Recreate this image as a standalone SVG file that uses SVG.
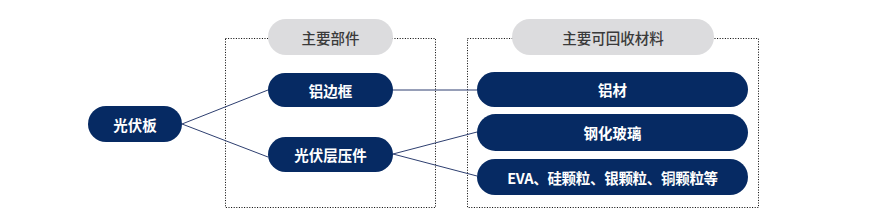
<svg xmlns="http://www.w3.org/2000/svg" width="894" height="218" viewBox="0 0 894 218">
<style>
.box{fill:none;stroke:#000;stroke-width:1;stroke-dasharray:1 1.6}
.pill{fill:#dcdcde}
.pt{font-family:"Noto Sans CJK SC","Noto Sans",sans-serif;font-size:14.5px;font-weight:500;fill:#3a3a3a;text-anchor:middle;dominant-baseline:central}
.node{fill:#062a63}
.nt{font-family:"Noto Sans CJK SC","Noto Sans",sans-serif;font-size:14.5px;font-weight:700;fill:#fff;text-anchor:middle;dominant-baseline:central}
.conn{stroke:#2e3f70;stroke-width:1;fill:none}
</style>
<rect width="894" height="218" fill="#fff"/>
<g id="group-parts">
<rect class="box" x="225.5" y="38.5" width="210" height="169"/>
<rect class="pill" x="268" y="19" width="125" height="36" rx="18"/>
<text class="pt" x="330.5" y="37">主要部件</text>
</g>
<g id="group-materials">
<rect class="box" x="467.5" y="38.5" width="291" height="169"/>
<rect class="pill" x="512" y="19" width="202" height="36" rx="18"/>
<text class="pt" x="613" y="37">主要可回收材料</text>
</g>
<g id="connectors">
<line class="conn" x1="182" y1="124" x2="268" y2="90"/>
<line class="conn" x1="182" y1="124" x2="268" y2="157"/>
<line class="conn" x1="393" y1="90" x2="477" y2="90"/>
<line class="conn" x1="393" y1="154" x2="477" y2="132"/>
<line class="conn" x1="393" y1="154" x2="477" y2="176"/>
</g>
<g id="node-panel">
<rect class="node" x="88" y="106" width="94" height="36" rx="18"/>
<text class="nt" x="135" y="124">光伏板</text>
</g>
<g id="node-frame">
<rect class="node" x="268" y="73" width="125" height="34" rx="17"/>
<text class="nt" x="330.5" y="90">铝边框</text>
</g>
<g id="node-laminate">
<rect class="node" x="268" y="137" width="125" height="35" rx="17.5"/>
<text class="nt" x="330.5" y="154.5">光伏层压件</text>
</g>
<g id="node-aluminium">
<rect class="node" x="477" y="72" width="271" height="35" rx="17.5"/>
<text class="nt" x="612.5" y="89.5">铝材</text>
</g>
<g id="node-glass">
<rect class="node" x="477" y="114" width="271" height="37" rx="18.5"/>
<text class="nt" x="612.5" y="132.5">钢化玻璃</text>
</g>
<g id="node-particles">
<rect class="node" x="477" y="159" width="271" height="36" rx="18"/>
<text class="nt" x="612.5" y="177" letter-spacing="-0.3">EVA、硅颗粒、银颗粒、铜颗粒等</text>
</g>
</svg>
